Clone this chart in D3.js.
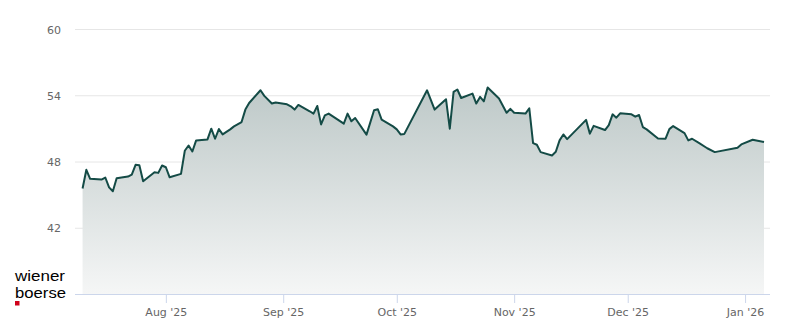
<!DOCTYPE html>
<html>
<head>
<meta charset="utf-8">
<script src="https://cdn.jsdelivr.net/npm/d3@7"></script>
<style>
  html, body { margin: 0; padding: 0; background: #fff; }
  svg { display: block; }
</style>
</head>
<body>
<svg id="chart" width="800" height="324"></svg>
<script>
// closing prices
const dates = [
  "2025-07-10","2025-07-11","2025-07-12","2025-07-15","2025-07-16","2025-07-17","2025-07-18","2025-07-19",
  "2025-07-22","2025-07-23","2025-07-24","2025-07-25","2025-07-26","2025-07-29","2025-07-30","2025-07-31",
  "2025-08-01","2025-08-02","2025-08-05","2025-08-06","2025-08-07","2025-08-08","2025-08-09","2025-08-12",
  "2025-08-13","2025-08-14","2025-08-15","2025-08-16","2025-08-18","2025-08-19","2025-08-21","2025-08-22",
  "2025-08-23","2025-08-26","2025-08-27","2025-08-29","2025-08-30","2025-09-02","2025-09-03","2025-09-04",
  "2025-09-05","2025-09-08","2025-09-09","2025-09-10","2025-09-11","2025-09-12","2025-09-13","2025-09-17",
  "2025-09-18","2025-09-19","2025-09-20","2025-09-23","2025-09-25","2025-09-26","2025-09-27","2025-09-30",
  "2025-10-01","2025-10-02","2025-10-03","2025-10-09","2025-10-11","2025-10-14","2025-10-15","2025-10-16",
  "2025-10-17","2025-10-18","2025-10-21","2025-10-22","2025-10-23","2025-10-24","2025-10-25","2025-10-28",
  "2025-10-30","2025-10-31","2025-11-01","2025-11-04","2025-11-05","2025-11-06","2025-11-07","2025-11-08",
  "2025-11-11","2025-11-12","2025-11-13","2025-11-14","2025-11-15","2025-11-20","2025-11-21","2025-11-22",
  "2025-11-25","2025-11-26","2025-11-27","2025-11-28","2025-11-29","2025-12-02","2025-12-03","2025-12-04",
  "2025-12-05","2025-12-06","2025-12-09","2025-12-11","2025-12-12","2025-12-13","2025-12-16","2025-12-17",
  "2025-12-18","2025-12-20","2025-12-22","2025-12-24","2025-12-30","2025-12-31","2026-01-03","2026-01-06"
];
const prices = [
  45.55, 47.25, 46.43, 46.36, 46.55, 45.66, 45.30, 46.48,
  46.64, 46.82, 47.70, 47.66, 46.21, 47.03, 46.97, 47.64,
  47.48, 46.57, 46.88, 48.97, 49.45, 48.91, 49.91, 50.00,
  50.97, 50.06, 50.94, 50.45, 50.91, 51.18, 51.57, 52.70,
  53.30, 54.45, 53.94, 53.25, 53.34, 53.18, 53.00, 52.70,
  53.12, 52.55, 52.34, 53.03, 51.36, 52.18, 52.34, 51.43,
  52.34, 51.64, 51.94, 50.43, 52.64, 52.73, 51.79, 51.18,
  50.91, 50.45, 50.50, 54.45, 52.70, 53.64, 50.97, 54.30,
  54.52, 53.75, 54.15, 53.25, 53.85, 53.45, 54.70, 53.70,
  52.41, 52.77, 52.41, 52.34, 52.82, 49.66, 49.52, 48.85,
  48.55, 48.88, 49.91, 50.45, 50.03, 51.77, 50.52, 51.23,
  50.85, 51.30, 52.27, 51.97, 52.36, 52.27, 52.06, 52.21,
  51.12, 50.91, 50.09, 50.07, 50.93, 51.21, 50.57, 49.91,
  50.06, 49.64, 49.20, 48.85, 49.25, 49.55, 49.97, 49.77
];
const yTicks = [42, 48, 54, 60];
const monthTicks = ["2025-08-01","2025-09-01","2025-10-01","2025-11-01","2025-12-01","2026-01-01"];
const monthLabels = ["Aug '25","Sep '25","Oct '25","Nov '25","Dec '25","Jan '26"];

const parse = d3.utcParse("%Y-%m-%d");
const data = dates.map((d, i) => ({ date: parse(d), value: prices[i] }));

const plotLeft = 75, plotRight = 770, plotTop = 29, plotBottom = 294;

const x = d3.scaleUtc()
  .domain([parse("2025-07-08"), new Date(Date.UTC(2026, 0, 7, 14))])
  .range([plotLeft, plotRight]);

const y = d3.scaleLinear()
  .domain([36, 60])
  .range([plotBottom, plotTop]);

const svg = d3.select("#chart");

const grad = svg.append("defs").append("linearGradient")
  .attr("id", "fillGrad")
  .attr("gradientUnits", "userSpaceOnUse")
  .attr("x1", 0).attr("y1", plotTop).attr("x2", 0).attr("y2", plotBottom);
grad.append("stop").attr("offset", "0%").attr("stop-color", "#aebcbb");
grad.append("stop").attr("offset", "100%").attr("stop-color", "#f5f6f6");

// grid lines
svg.append("g")
  .selectAll("line")
  .data(yTicks)
  .enter().append("line")
  .attr("x1", plotLeft).attr("x2", plotRight)
  .attr("y1", d => y(d) + 0.5).attr("y2", d => y(d) + 0.5)
  .attr("stroke", "#e6e6e6")
  .attr("stroke-width", 1);

// y labels
svg.append("g")
  .selectAll("text")
  .data(yTicks)
  .enter().append("text")
  .attr("x", 61)
  .attr("y", d => y(d) + 4.5)
  .attr("text-anchor", "end")
  .attr("font-family", "DejaVu Sans, sans-serif")
  .attr("font-size", 11)
  .attr("fill", "#666666")
  .text(d => d);

// area + line
const area = d3.area()
  .x(d => x(d.date))
  .y0(y(36))
  .y1(d => y(d.value));

const line = d3.line()
  .x(d => x(d.date))
  .y(d => y(d.value));

svg.append("path")
  .datum(data)
  .attr("d", area)
  .attr("fill", "url(#fillGrad)");

svg.append("path")
  .datum(data)
  .attr("d", line)
  .attr("fill", "none")
  .attr("stroke", "#144b46")
  .attr("stroke-width", 2)
  .attr("stroke-linejoin", "round");

// x axis
const xAxis = d3.axisBottom(x)
  .tickValues(monthTicks.map(parse))
  .tickSize(9)
  .tickFormat((d, i) => monthLabels[i]);

const gx = svg.append("g")
  .attr("transform", "translate(0," + plotBottom + ")")
  .call(xAxis);

gx.select(".domain")
  .attr("d", "M" + plotLeft + ",0.5H" + plotRight)
  .attr("stroke", "#ccd6eb");
gx.selectAll(".tick line").attr("stroke", "#ccd6eb");
gx.selectAll(".tick text")
  .attr("y", 14)
  .attr("font-family", "DejaVu Sans, sans-serif")
  .attr("font-size", 11)
  .attr("fill", "#666666");

// logo
const logo = svg.append("g")
  .attr("font-family", "Liberation Sans, Arial, sans-serif")
  .attr("font-size", 15)
  .attr("fill", "#000");
logo.append("text")
  .attr("x", 15).attr("y", 281)
  .attr("textLength", 50)
  .attr("lengthAdjust", "spacingAndGlyphs")
  .text("wiener");
logo.append("text")
  .attr("x", 15).attr("y", 298)
  .attr("textLength", 51)
  .attr("lengthAdjust", "spacingAndGlyphs")
  .text("boerse");
logo.append("rect")
  .attr("x", 15).attr("y", 301)
  .attr("width", 4.5).attr("height", 4.5)
  .attr("fill", "#d0021b");
</script>
</body>
</html>
